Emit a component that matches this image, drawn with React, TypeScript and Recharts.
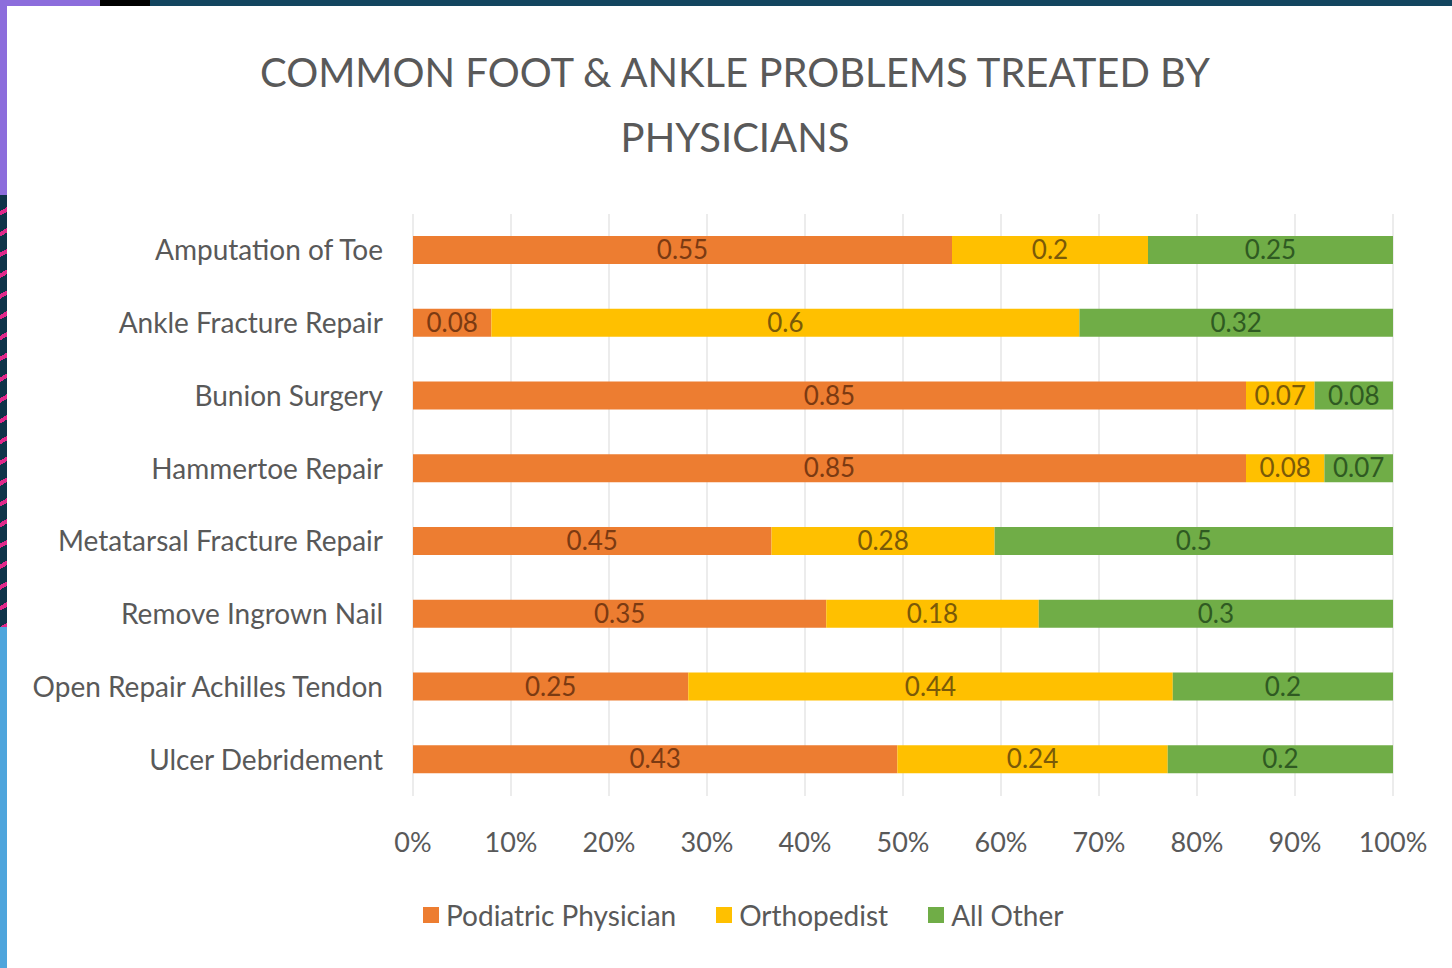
import React from "react";
import { BarChart, Bar, XAxis, YAxis, CartesianGrid, Legend, LabelList } from "recharts";

const procedures = [
  "Amputation of Toe",
  "Ankle Fracture Repair",
  "Bunion Surgery",
  "Hammertoe Repair",
  "Metatarsal Fracture Repair",
  "Remove Ingrown Nail",
  "Open Repair Achilles Tendon",
  "Ulcer Debridement",
];
const podiatric = [0.55, 0.08, 0.85, 0.85, 0.45, 0.35, 0.25, 0.43];
const orthopedist = [0.2, 0.6, 0.07, 0.08, 0.28, 0.18, 0.44, 0.24];
const allOther = [0.25, 0.32, 0.08, 0.07, 0.5, 0.3, 0.2, 0.2];
const percentTicks = [0, 0.1, 0.2, 0.3, 0.4, 0.5, 0.6, 0.7, 0.8, 0.9, 1];

const seriesInfo = [
  { key: "podiatric", name: "Podiatric Physician", color: "#ED7D31", text: "#7b3a12" },
  { key: "orthopedist", name: "Orthopedist", color: "#FFC000", text: "#7a5a08" },
  { key: "allOther", name: "All Other", color: "#70AD47", text: "#2f5a22" },
];

const rows = procedures.map((name, i) => ({
  name,
  podiatric: podiatric[i],
  orthopedist: orthopedist[i],
  allOther: allOther[i],
}));

const font = "Lato, 'Open Sans', sans-serif";

// legend drawn by hand so the spacing follows the original
const LegendRow = () => (
  <div style={{ display: "flex", alignItems: "center", fontFamily: font, fontSize: 28, color: "#595959" }}>
    {seriesInfo.map((s) => (
      <div key={s.key} style={{ display: "flex", alignItems: "center", marginRight: 40 }}>
        <span style={{ width: 16, height: 16, background: s.color, display: "inline-block", marginRight: 7 }} />
        <span>{s.name}</span>
      </div>
    ))}
  </div>
);

export default function App() {
  return (
    <div style={{ position: "fixed", left: 0, top: 0, width: 1452, height: 968, background: "#ffffff", overflow: "hidden" }}>
      {/* slide frame bits */}
      <div style={{ position: "absolute", left: 0, top: 0, width: 1452, height: 6, background: "#13455f" }} />
      <div style={{ position: "absolute", left: 0, top: 0, width: 100, height: 6, background: "#8c6ddc" }} />
      <div style={{ position: "absolute", left: 100, top: 0, width: 50, height: 6, background: "#000000" }} />
      <div style={{ position: "absolute", left: 0, top: 0, width: 7, height: 195, background: "#8c6ddc" }} />
      <div
        style={{
          position: "absolute",
          left: 0,
          top: 195,
          width: 7,
          height: 432,
          background: "repeating-linear-gradient(150deg, #0f3449 0px, #0f3449 14px, #e0288a 14px, #e0288a 18px)",
        }}
      />
      <div style={{ position: "absolute", left: 0, top: 627, width: 7, height: 341, background: "#4ea5dc" }} />

      <div
        style={{
          position: "absolute",
          left: 0,
          top: 40,
          width: 1470,
          textAlign: "center",
          fontFamily: font,
          fontSize: 40,
          lineHeight: "65px",
          color: "#595959",
        }}
      >
        COMMON FOOT &amp; ANKLE PROBLEMS TREATED BY
        <br />
        PHYSICIANS
      </div>

      <div style={{ position: "absolute", left: 0, top: 0 }}>
        <BarChart
          width={1452}
          height={968}
          data={rows}
          layout="vertical"
          stackOffset="expand"
          barSize={28}
          margin={{ top: 214, right: 59, bottom: 108, left: 0 }}
        >
          <CartesianGrid horizontal={false} stroke="#d9d9d9" />
          <XAxis
            type="number"
            domain={[0, 1]}
            ticks={percentTicks}
            tickFormatter={(v: number) => `${Math.round(v * 100)}%`}
            axisLine={false}
            tickLine={false}
            tickSize={0}
            tickMargin={37}
            tick={{ fill: "#595959", fontSize: 27, fontFamily: font }}
          />
          <YAxis
            type="category"
            dataKey="name"
            width={413}
            axisLine={false}
            tickLine={false}
            tickSize={0}
            tickMargin={30}
            tick={{ fill: "#595959", fontSize: 28, fontFamily: font }}
          />
          <Legend
            content={<LegendRow />}
            wrapperStyle={{ left: 423, top: 898, width: "auto" }}
          />
          {seriesInfo.map((s) => (
            <Bar key={s.key} dataKey={s.key} name={s.name} stackId="a" fill={s.color} isAnimationActive={false}>
              <LabelList
                dataKey={s.key}
                position="center"
                fill={s.text}
                fontSize={26}
                fontFamily={font}
              />
            </Bar>
          ))}
        </BarChart>
      </div>
    </div>
  );
}
